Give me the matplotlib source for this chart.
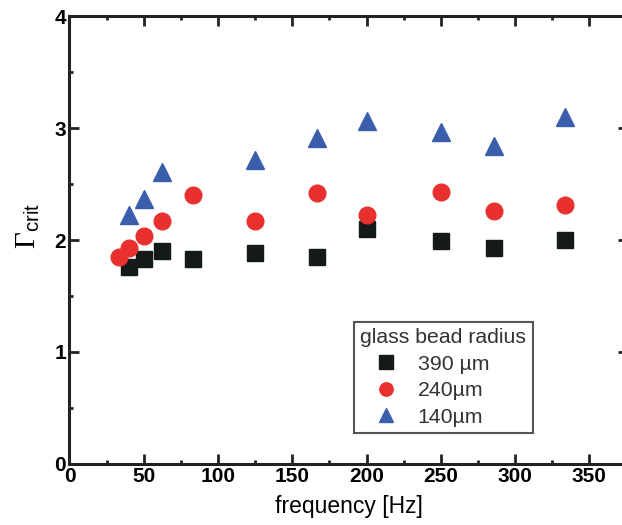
import numpy as np
import matplotlib.pyplot as plt
from matplotlib.ticker import MultipleLocator

plt.rcParams['font.family'] = 'Liberation Sans'
plt.rcParams['mathtext.fontset'] = 'custom'
plt.rcParams['mathtext.rm'] = 'Liberation Serif'
plt.rcParams['mathtext.sf'] = 'Liberation Sans'

# 390 um beads
f_390 = [40, 50, 62.5, 83.3, 125, 166.7, 200, 250, 285.7, 333.3]
g_390 = [1.76, 1.83, 1.90, 1.83, 1.88, 1.85, 2.10, 1.99, 1.93, 2.00]
# 240 um beads
f_240 = [33.3, 40, 50, 62.5, 83.3, 125, 166.7, 200, 250, 285.7, 333.3]
g_240 = [1.85, 1.93, 2.04, 2.17, 2.40, 2.17, 2.42, 2.22, 2.43, 2.26, 2.31]
# 140 um beads
f_140 = [40, 50, 62.5, 125, 166.7, 200, 250, 285.7, 333.3]
g_140 = [2.22, 2.37, 2.61, 2.71, 2.91, 3.06, 2.96, 2.84, 3.10]

labels = ['390 µm', '240µm', '140µm']

fig = plt.figure(figsize=(6.22, 5.25), dpi=100)
ax = fig.add_axes([0.1117, 0.1162, 0.898, 0.8533])

ax.plot(f_390, g_390, 's', color='#141a1a', ms=12, label=labels[0], zorder=3)
ax.plot(f_240, g_240, 'o', color='#e8302e', ms=12, label=labels[1], zorder=3)
ax.plot(f_140, g_140, '^', color='#3b5eac', ms=13, label=labels[2], zorder=3)

ax.set_xlim(0, 376)
ax.set_ylim(0, 4)
ax.xaxis.set_major_locator(MultipleLocator(50))
ax.xaxis.set_minor_locator(MultipleLocator(25))
ax.yaxis.set_major_locator(MultipleLocator(1))
ax.yaxis.set_minor_locator(MultipleLocator(0.5))

for s in ax.spines.values():
    s.set_linewidth(2.2)
    s.set_color('#222222')
ax.spines['right'].set_visible(False)
ax.tick_params(which='both', direction='in', top=True, right=True,
               color='#222222', width=2)
ax.tick_params(which='major', length=7, labelsize=15, pad=2.5)
ax.tick_params(which='minor', length=3)
for t in ax.get_xticklabels() + ax.get_yticklabels():
    t.set_fontweight('bold')

ax.set_xlabel('frequency [Hz]', fontsize=16.5, labelpad=6)
ax.set_ylabel(r'$\Gamma_{\mathsf{crit}}$', fontsize=21)
ax.yaxis.set_label_coords(-0.05, 0.532)

leg = ax.legend(title='glass bead radius', loc='upper left',
                bbox_to_anchor=(0.509, 0.317), borderaxespad=0,
                fontsize=15.3, title_fontsize=15.3, markerscale=0.8,
                handlelength=2.4, handletextpad=0.3, labelspacing=0.35,
                borderpad=0.3, fancybox=False, framealpha=1,
                edgecolor='#555555', alignment='left')
leg.get_frame().set_linewidth(1.5)
for t in leg.get_texts():
    t.set_color('#333333')
leg.get_title().set_color('#333333')

fig.savefig('out.png', dpi=100)
